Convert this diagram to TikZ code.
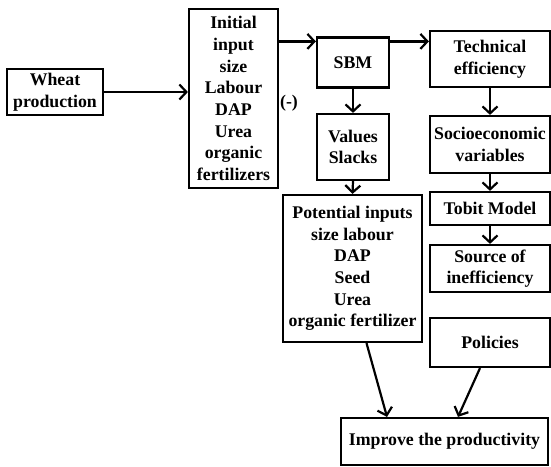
\documentclass[tikz,border=0pt]{standalone}
\usepackage{fontspec}
\setmainfont{Liberation Serif}
\usepackage{tikz}
\usetikzlibrary{arrows.meta}

\begin{document}
\begin{tikzpicture}[
    x=1pt, y=-1pt,
    txt/.style={font=\bfseries\fontsize{17.8}{21.7}\selectfont, align=center},
    box/.style={txt, draw, line width=2.2pt, inner sep=0pt},
    arrow/.style={-{Straight Barb[length=7pt,width=15pt,line width=2.2pt]}, line width=2.2pt}
]

\useasboundingbox (0,0) rectangle (551,466);

% Left column
\node[box, minimum width=96pt, minimum height=46pt] (wheat) at (55,92) {Wheat\\production};
\node[box, minimum width=89pt, minimum height=179pt] (initial) at (233.5,98.5)
    {Initial\\input\\size\\Labour\\DAP\\Urea\\organic\\fertilizers};

% Middle column
\node[box, minimum width=72pt, minimum height=50pt] (sbm) at (353,62.5) {SBM};
\node[box, minimum width=72pt, minimum height=66pt] (values) at (353,147) {Values\\Slacks};
\node[box, minimum width=139pt, minimum height=147pt] (potential) at (352.5,268.5)
    {Potential inputs\\size labour\\DAP\\Seed\\Urea\\organic fertilizer};
\node[txt] (minus) at (289,103) {(-)};

% Right column
\node[box, minimum width=120pt, minimum height=56pt] (tech) at (490,59) {Technical\\efficiency};
\node[box, minimum width=120pt, minimum height=57pt] (socio) at (490,144.5) {Socioeconomic\\variables};
\node[box, minimum width=120pt, minimum height=33pt] (tobit) at (490,208.5) {Tobit Model};
\node[box, minimum width=120pt, minimum height=47pt] (source) at (490,268.5) {Source of\\inefficiency};
\node[box, minimum width=120pt, minimum height=49pt] (policies) at (490,342.5) {Policies};

% Bottom
\node[box, minimum width=207pt, minimum height=47pt] (improve) at (444.5,441.5) {Improve the productivity};

% Connectors
\coordinate (toprow) at ([yshift=-5pt]sbm.north west);
\draw[arrow] (wheat.east) -- (wheat.east -| initial.west);
\draw[arrow] (initial.east |- toprow) -- (toprow);
\draw[arrow] (sbm.east |- toprow) -- (tech.west |- toprow);
\draw[arrow] (sbm.south) -- (values.north);
\draw[arrow] (values.south) -- (potential.north);
\draw[arrow] (tech.south) -- (socio.north);
\draw[arrow] (socio.south) -- (tobit.north);
\draw[arrow] (tobit.south) -- (source.north);
\draw[arrow] ([xshift=14pt]potential.south) -- ([xshift=-57.5pt]improve.north);
\draw[arrow] ([xshift=-10pt]policies.south) -- ([xshift=13.5pt]improve.north);

\end{tikzpicture}
\end{document}
